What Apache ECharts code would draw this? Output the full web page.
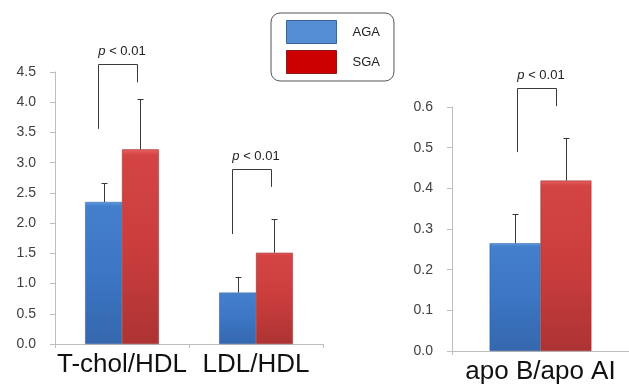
<!DOCTYPE html>
<html><head><meta charset="utf-8">
<script src="https://cdn.jsdelivr.net/npm/echarts@6/dist/echarts.min.js"></script>
<style>html,body{margin:0;padding:0;background:#fff}#c{width:629px;height:385px}</style>
</head><body><div id="c"></div>
<script>
// ---- data ----
var leftCategories = ['T-chol/HDL', 'LDL/HDL'];
var rightCategories = ['apo B/apo AI'];
var agaLeft = [2.35, 0.85];
var sgaLeft = [3.22, 1.51];
var agaLeftUpper = [2.66, 1.11];
var sgaLeftUpper = [4.05, 2.06];
var agaRight = [0.265];
var sgaRight = [0.419];
var agaRightUpper = [0.337];
var sgaRightUpper = [0.524];
// brackets: [leftBottom, top, rightBottom]
var bracketsLeft = [[3.56, 4.63, 4.33], [1.82, 2.89, 2.60]];
var bracketsRight = [[0.489, 0.646, 0.602]];
var pText = 'p < 0.01';
var leftTicks = {min: 0, max: 4.5, interval: 0.5};
var rightTicks = {min: 0, max: 0.6, interval: 0.1};

var FONT = '"Liberation Sans", Arial, sans-serif';
var blueGrad = new echarts.graphic.LinearGradient(0, 0, 0, 1, [
  {offset: 0, color: '#5a9ae2'}, {offset: 0.03, color: '#447fcc'}, {offset: 0.5, color: '#3c76c4'}, {offset: 1, color: '#3567ad'}]);
var redGrad = new echarts.graphic.LinearGradient(0, 0, 0, 1, [
  {offset: 0, color: '#e86060'}, {offset: 0.03, color: '#d44444'}, {offset: 0.5, color: '#cb3d3d'}, {offset: 1, color: '#ad3333'}]);

function errSeries(name, xi, vals, uppers, side, gapRatio) {
  var data = vals.map(function (v, i) { return [i, v, uppers[i]]; });
  return {
    type: 'custom', name: name + ' err', xAxisIndex: xi, yAxisIndex: xi, z: 5, clip: false,
    data: data, silent: true,
    renderItem: function (params, api) {
      var band = api.size([1, 0])[0];
      var w = band * (1 - gapRatio) / 2;
      var p0 = api.coord([api.value(0), api.value(1)]);
      var p1 = api.coord([api.value(0), api.value(2)]);
      var x = Math.round(p0[0] + side * w / 2) + 0.5;
      var s = {stroke: '#3a3a3a', lineWidth: 1};
      return {type: 'group', children: [
        {type: 'line', shape: {x1: x, y1: p0[1], x2: x, y2: p1[1]}, style: s},
        {type: 'line', shape: {x1: x - 3, y1: Math.round(p1[1]) + 0.5, x2: x + 3, y2: Math.round(p1[1]) + 0.5}, style: s}
      ]};
    }
  };
}
function bracketSeries(xi, brs) {
  var data = brs.map(function (b, i) { return [i, b[0], b[1], b[2]]; });
  return {
    type: 'custom', name: 'brackets', xAxisIndex: xi, yAxisIndex: xi, z: 6, clip: false, silent: true,
    data: data,
    renderItem: function (params, api) {
      var c = api.value(0);
      var lb = api.coord([c, api.value(1)]);
      var tp = api.coord([c, api.value(2)]);
      var rb = api.coord([c, api.value(3)]);
      var xl = Math.round(lb[0] - 24) + 0.5, xr = Math.round(lb[0] + 15) + 0.5;
      var yt = Math.round(tp[1]) + 0.5;
      return {type: 'group', children: [
        {type: 'polyline', shape: {points: [[xl, lb[1]], [xl, yt], [xr, yt], [xr, rb[1]]]},
         style: {stroke: '#3a3a3a', lineWidth: 1, fill: null}},
        {type: 'text', style: {x: (xl + xr) / 2 + 4, y: yt - 13, text: '{i|p}' + pText.slice(1),
          align: 'center', verticalAlign: 'middle', fill: '#222', font: '13px ' + FONT,
          rich: {i: {fontStyle: 'italic', fontSize: 13, fontFamily: FONT, fill: '#222'}}}}
      ]};
    }
  };
}

var yAxisBase = function (t, gi) {
  return {type: 'value', gridIndex: gi, min: t.min, max: t.max, interval: t.interval,
    axisLine: {show: true, lineStyle: {color: '#bdbdbd'}},
    axisTick: {show: true, length: 5, lineStyle: {color: '#bdbdbd'}},
    splitLine: {show: false},
    axisLabel: {color: '#404040', fontSize: 14, fontFamily: FONT, margin: 19,
      formatter: function (v) { return v.toFixed(1); }}};
};
var xAxisBase = function (cats, gi) {
  return {type: 'category', gridIndex: gi, data: cats,
    axisLine: {show: true, lineStyle: {color: '#bdbdbd'}},
    axisTick: {show: true, length: 4, lineStyle: {color: '#bdbdbd'}},
    axisLabel: {color: '#111', fontSize: 26, fontFamily: FONT, margin: 8, interval: 0, hideOverlap: false}};
};

var chart = echarts.init(document.getElementById('c'), null, {renderer: 'canvas'});
chart.setOption({
  animation: false,
  backgroundColor: '#fff',
  grid: [
    {left: 55, right: 306, top: 72, bottom: 41},
    {left: 452, right: -4, top: 107, bottom: 33}
  ],
  xAxis: [xAxisBase(leftCategories, 0), xAxisBase(rightCategories, 1)],
  yAxis: [yAxisBase(leftTicks, 0), yAxisBase(rightTicks, 1)],
  legend: {
    data: [
      {name: 'AGA', itemStyle: {color: '#558ed5', borderColor: '#3b6594', borderWidth: 1}},
      {name: 'SGA', itemStyle: {color: '#cc0000', borderColor: '#8a1a1a', borderWidth: 1}}
    ],
    orient: 'vertical', left: 271, top: 13, icon: 'rect',
    itemWidth: 50, itemHeight: 23, itemGap: 6,
    padding: [7, 14, 7, 15],
    borderColor: '#555', borderWidth: 1, borderRadius: 9,
    textStyle: {fontSize: 13, fontFamily: FONT, color: '#222', padding: [0, 0, 0, 11]}
  },
  series: [
    {type: 'bar', name: 'AGA', xAxisIndex: 0, yAxisIndex: 0, data: agaLeft, barGap: '0%', barCategoryGap: '45%',
     itemStyle: {color: blueGrad, borderColor: '#2f5a94', borderWidth: 0.5}},
    {type: 'bar', name: 'SGA', xAxisIndex: 0, yAxisIndex: 0, data: sgaLeft, barGap: '0%', barCategoryGap: '45%',
     itemStyle: {color: redGrad, borderColor: '#8f2a2a', borderWidth: 0.5}},
    {type: 'bar', name: 'AGA', xAxisIndex: 1, yAxisIndex: 1, data: agaRight, barGap: '0%', barCategoryGap: '42.5%',
     itemStyle: {color: blueGrad, borderColor: '#2f5a94', borderWidth: 0.5}},
    {type: 'bar', name: 'SGA', xAxisIndex: 1, yAxisIndex: 1, data: sgaRight, barGap: '0%', barCategoryGap: '42.5%',
     itemStyle: {color: redGrad, borderColor: '#8f2a2a', borderWidth: 0.5}},
    errSeries('AGA', 0, agaLeft, agaLeftUpper, -1, 0.45),
    errSeries('SGA', 0, sgaLeft, sgaLeftUpper, 1, 0.45),
    errSeries('AGA', 1, agaRight, agaRightUpper, -1, 0.425),
    errSeries('SGA', 1, sgaRight, sgaRightUpper, 1, 0.425),
    bracketSeries(0, bracketsLeft),
    bracketSeries(1, bracketsRight)
  ]
});
</script></body></html>
